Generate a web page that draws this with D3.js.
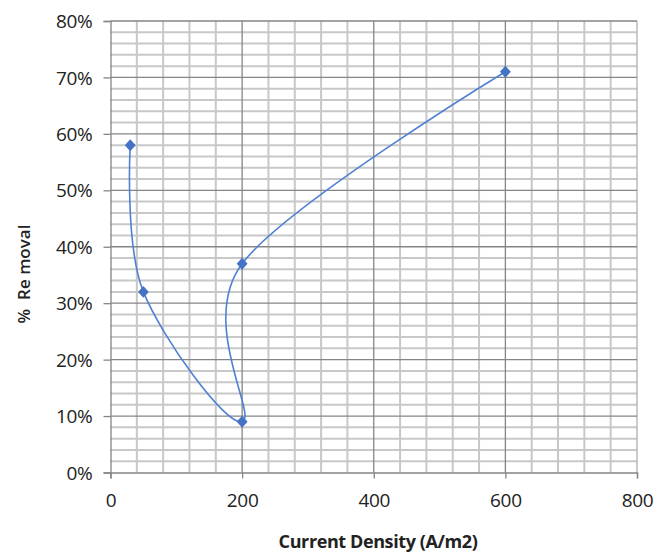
<!DOCTYPE html>
<html><head><meta charset="utf-8">
<script src="https://cdn.jsdelivr.net/npm/d3@7"></script>
<style>body{margin:0;background:#fff}text{font-family:"Open Sans",sans-serif}</style>
</head><body><svg id="c" width="662" height="553"></svg>
<script>
const currentDensity = [30, 50, 200, 200, 600];
const removal = [0.58, 0.32, 0.09, 0.37, 0.71];
const xTicks = [0, 200, 400, 600, 800];
const yTicks = [0, 0.1, 0.2, 0.3, 0.4, 0.5, 0.6, 0.7, 0.8];
const xTitle = "Current Density (A/m2)";
const yTitle = "%  Re moval";

const svg = d3.select("#c");
const L = 110.5, R = 637, T = 21, B = 472.5;
const x = d3.scaleLinear().domain([0, 800]).range([L, R]);
const y = d3.scaleLinear().domain([0, 0.8]).range([B, T]);

const g = svg.append("g");
// minor grid
const xMinor = d3.range(0, 801, 40).filter(v => v % 200 !== 0);
const yMinor = d3.range(0, 0.801, 0.02).filter(v => Math.abs(v*10 - Math.round(v*10)) > 1e-6);
g.selectAll(".mx").data(xMinor).join("line")
  .attr("x1", d => x(d)).attr("x2", d => x(d)).attr("y1", T).attr("y2", B)
  .attr("stroke", "#c8c8c8").attr("stroke-width", 2);
g.selectAll(".my").data(yMinor).join("line")
  .attr("x1", L).attr("x2", R).attr("y1", d => y(d)).attr("y2", d => y(d))
  .attr("stroke", "#c8c8c8").attr("stroke-width", 2);
// major grid
g.selectAll(".Mx").data(xTicks.slice(1)).join("line")
  .attr("x1", d => x(d)).attr("x2", d => x(d)).attr("y1", T).attr("y2", B)
  .attr("stroke", d => d === 800 ? "#b0b0b0" : "#858585").attr("stroke-width", 1.3);
g.selectAll(".My").data(yTicks.slice(1)).join("line")
  .attr("x1", L).attr("x2", R).attr("y1", d => y(d)).attr("y2", d => y(d))
  .attr("stroke", "#858585").attr("stroke-width", 1.3);

// axes
const xAxis = d3.axisBottom(x).tickValues(xTicks).tickSize(6).tickPadding(15).tickFormat(d3.format("d"));
const yAxis = d3.axisLeft(y).tickValues(yTicks).tickSize(7).tickPadding(11).tickFormat(d3.format(".0%"));
const gx = svg.append("g").attr("transform", `translate(0,${B})`).call(xAxis);
const gy = svg.append("g").attr("transform", `translate(${L},0)`).call(yAxis);
[gx, gy].forEach(a => {
  a.select(".domain").attr("stroke", "#858585").attr("stroke-width", 1.3);
  a.selectAll(".tick line").attr("stroke", "#858585").attr("stroke-width", 1.3);
  a.selectAll("text").attr("font-size", 19).attr("fill", "#222").attr("letter-spacing", -0.3);
});
gy.selectAll("text").attr("dy", "0.35em");

// line
const pts = currentDensity.map((d, i) => [x(d), y(removal[i])]);
svg.append("path").attr("d", d3.line().curve(d3.curveCardinal.tension(0))(pts))
  .attr("fill", "none").attr("stroke", "#4f80d4").attr("stroke-width", 1.6);
svg.selectAll(".pt").data(pts).join("path")
  .attr("d", d3.symbol(d3.symbolDiamond2, 75)())
  .attr("transform", d => `translate(${d[0]},${d[1]}) scale(1,1.1)`)
  .attr("fill", "#4472C4");

// titles
svg.append("text").attr("x", 378).attr("y", 548).attr("text-anchor", "middle")
  .attr("font-size", 18).attr("font-weight", "bold").attr("fill", "#222").attr("letter-spacing", -0.4).text(xTitle);
svg.append("text").attr("transform", "translate(30,274) rotate(-90)").attr("text-anchor", "middle")
  .attr("font-size", 17).attr("font-weight", 600).attr("fill", "#222").style("white-space", "pre").text(yTitle);
</script></body></html>
